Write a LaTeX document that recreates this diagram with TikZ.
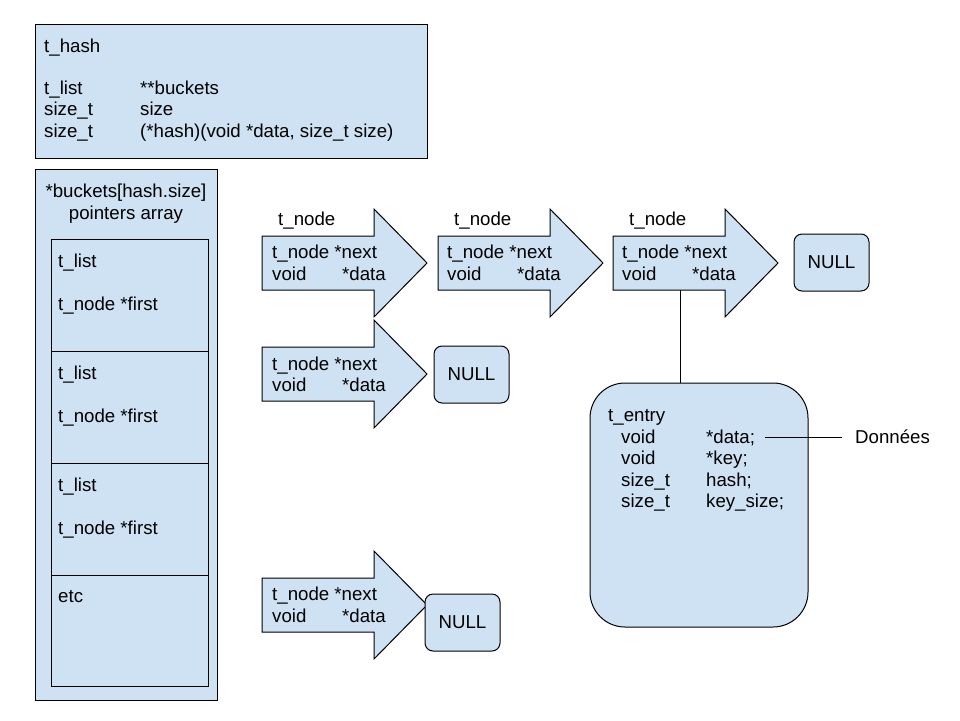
\documentclass[tikz,border=0pt]{standalone}
\usepackage{fontspec}
\setmainfont{Liberation Sans}
\definecolor{lb}{HTML}{CFE2F3}
\newcommand\colA[2]{\makebox[96pt][l]{#1}#2}
\newcommand\colB[2]{\makebox[70pt][l]{#1}#2}
\newcommand\colC[2]{\makebox[85pt][l]{#1}#2}
\newcommand\nodearrow[3]{%
  \draw[box] (#2,#3-27) -- (#2+112,#3-27) -- (#2+112,#3-54) -- (#2+165,#3)
    -- (#2+112,#3+54) -- (#2+112,#3+27) -- (#2,#3+27) -- cycle;
  \coordinate (#1) at (#2,#3);}
\begin{document}
\begin{tikzpicture}[x=1pt,y=-1pt,
  box/.style={draw=black,fill=lb,line width=1pt},
  rect/.style={box,inner sep=0pt,outer sep=0pt},
  nullbox/.style={box,rounded corners=8pt,minimum width=75pt,minimum height=57pt,inner sep=0pt},
  txt/.style={anchor=base west,inner sep=0pt},
  every node/.style={font=\fontsize{18.67}{21.5}\selectfont}]
\useasboundingbox (0,0) rectangle (960,720);

% t_hash box
\node[rect,minimum width=392pt,minimum height=134pt] (hash) at (231,91) {};
\node[txt] (h0) at (44,52) {t\_hash};
\node[txt] (h1) at (44,94) {\colA{t\_list}{**buckets}};
\node[txt] (h2) at (44,115.5) {\colA{size\_t}{size}};
\node[txt] (h3) at (44,137) {\colA{size\_t}{(*hash)(void *data, size\_t size)}};

% buckets array
\node[rect,minimum width=182pt,minimum height=531pt] (buckets) at (126,434.5) {};
\node[anchor=base,inner sep=0pt] (bt1) at (126,197) {*buckets[hash.size]};
\node[anchor=base,inner sep=0pt] (bt2) at (126,219) {pointers array};
\node[rect,minimum width=157pt,minimum height=112pt] (c1) at (129.5,295) {};
\node[rect,minimum width=157pt,minimum height=112pt] (c2) at (129.5,407) {};
\node[rect,minimum width=157pt,minimum height=112pt] (c3) at (129.5,519) {};
\node[rect,minimum width=157pt,minimum height=111pt] (c4) at (129.5,630.5) {};
\node[txt] (c1a) at (58,267) {t\_list};
\node[txt] (c1b) at (58,310) {t\_node *first};
\node[txt] (c2a) at (58,379) {t\_list};
\node[txt] (c2b) at (58,422) {t\_node *first};
\node[txt] (c3a) at (58,491) {t\_list};
\node[txt] (c3b) at (58,534) {t\_node *first};
\node[txt] (c4a) at (58,602) {etc};

% row 1 arrows
\nodearrow{a1}{262}{263}
\nodearrow{a2}{438}{263}
\nodearrow{a3}{613}{263}
\node[txt] (l1) at (278,225) {t\_node};
\node[txt] (l2) at (454,225) {t\_node};
\node[txt] (l3) at (629,225) {t\_node};
\node[txt] (a1t) at (272,258) {t\_node *next};
\node[txt] (a1d) at (272,280) {\colB{void}{*data}};
\node[txt] (a2t) at (447,258) {t\_node *next};
\node[txt] (a2d) at (447,280) {\colB{void}{*data}};
\node[txt] (a3t) at (622,258) {t\_node *next};
\node[txt] (a3d) at (622,280) {\colB{void}{*data}};
\node[nullbox] (n1) at (831.5,262.5) {NULL};

% row 2
\nodearrow{b1}{262}{374}
\node[txt] (b1t) at (272,370) {t\_node *next};
\node[txt] (b1d) at (272,391) {\colB{void}{*data}};
\node[nullbox] (n2) at (471.5,374.5) {NULL};

% row 3
\nodearrow{d1}{262}{605}
\node[txt] (d1t) at (272,600) {t\_node *next};
\node[txt] (d1d) at (272,622) {\colB{void}{*data}};
\node[nullbox] (n3) at (462.5,622.5) {NULL};

% entry
\node[box,rounded corners=35pt,minimum width=218pt,minimum height=244pt,inner sep=0pt] (entry) at (699,505) {};
\node[txt] (e0) at (608,421) {t\_entry};
\node[txt] (e1) at (621,443) {\colC{void}{*data;}};
\node[txt] (e2) at (621,464.5) {\colC{void}{*key;}};
\node[txt] (e3) at (621,486) {\colC{size\_t}{hash;}};
\node[txt] (e4) at (621,507.5) {\colC{size\_t}{key\_size;}};
\node[txt] (don) at (855,443) {Données};
\coordinate (a3bot) at (680,290);
\coordinate (dstart) at (765,437);
\draw[line width=1pt] (a3bot) -- (a3bot |- entry.north);
\draw[line width=1pt,shorten >=13pt] (dstart) -- (dstart -| don.west);
\end{tikzpicture}
\end{document}
